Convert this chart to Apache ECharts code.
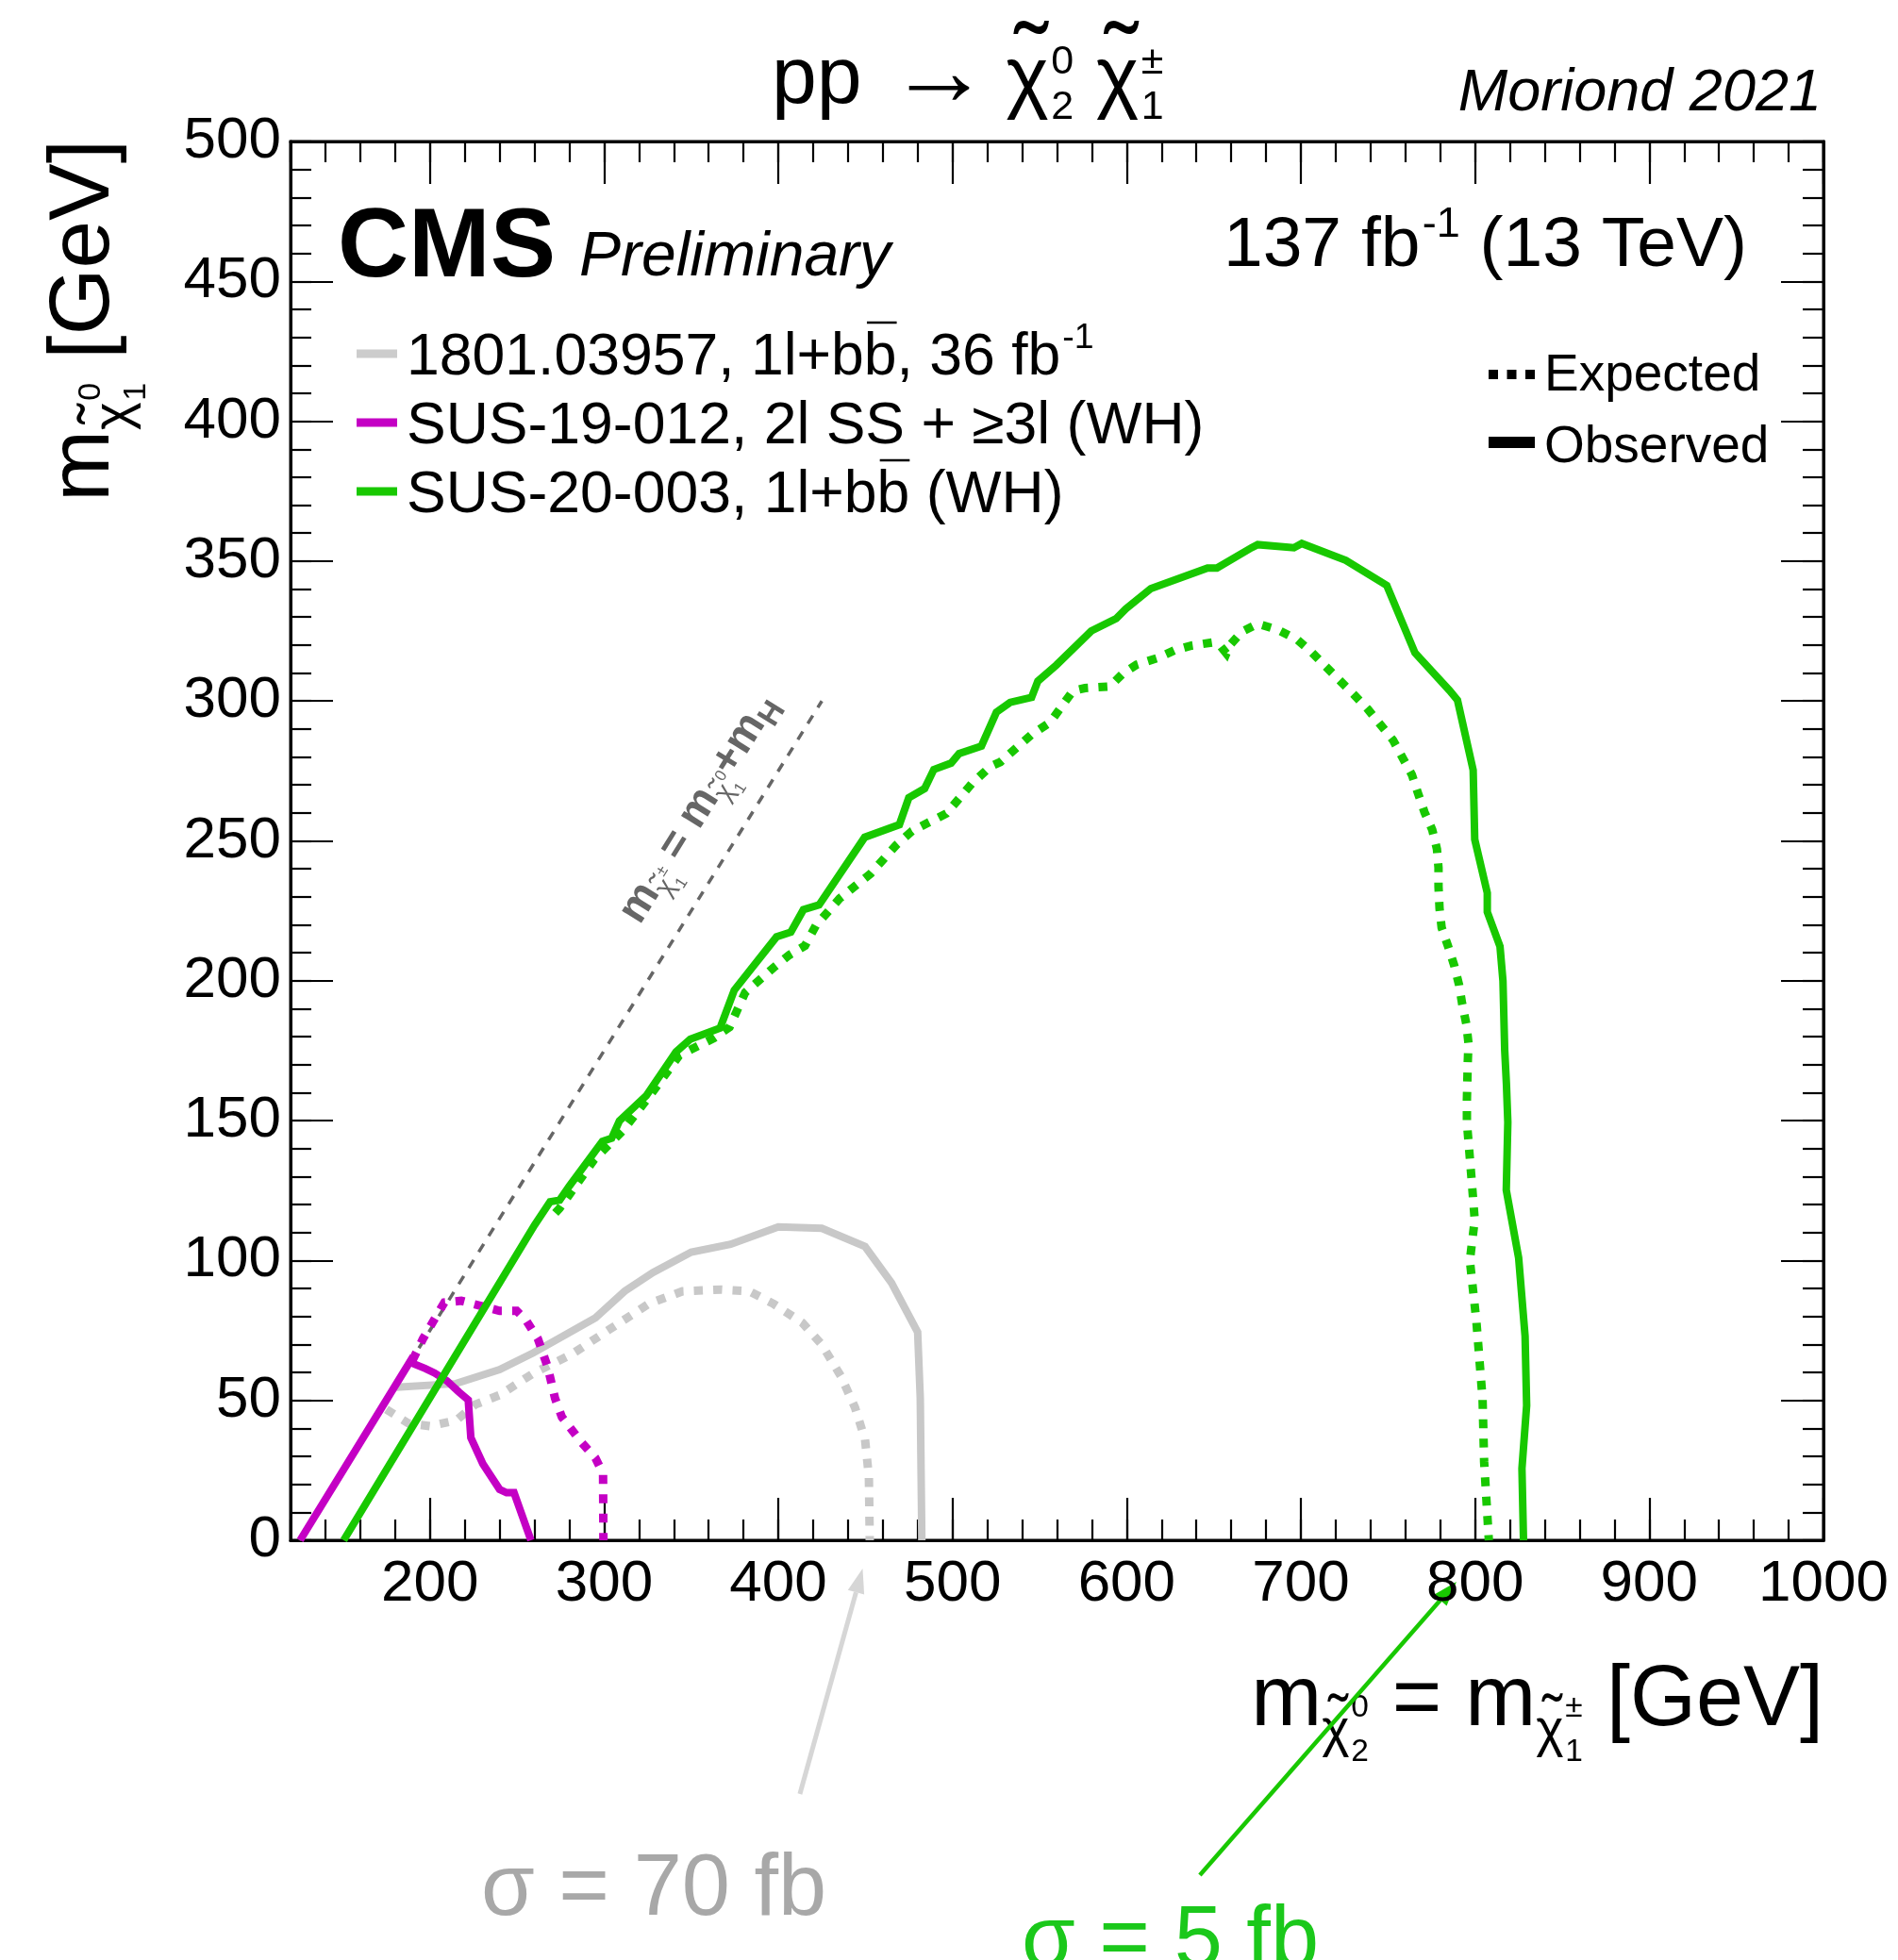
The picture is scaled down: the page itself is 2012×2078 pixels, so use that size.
<!DOCTYPE html>
<html>
<head>
<meta charset="utf-8">
<script src="https://cdn.jsdelivr.net/npm/echarts@6/dist/echarts.min.js"></script>
<style>
  html, body { margin: 0; padding: 0; background: #ffffff; }
  #chart { width: 2012px; height: 2078px; }
</style>
</head>
<body>
<div id="chart"></div>
<script>
// Exclusion contours in the (m_chi2^0 = m_chi1^+-, m_chi1^0) plane, GeV.
const X_MIN = 120, X_MAX = 1000, Y_MIN = 0, Y_MAX = 500;
const xTickValues = [200, 300, 400, 500, 600, 700, 800, 900, 1000];
const yTickValues = [0, 50, 100, 150, 200, 250, 300, 350, 400, 450, 500];

// SUS-20-003, 1l+bb (WH)
const greenObserved = [
  [150.5, 0], [260, 112.6], [269, 121], [274.5, 121.6], [280, 126.6], [299, 142.6], [304.3, 143.7],
  [308.8, 149.9], [324.2, 158.9], [341.3, 174.6], [349.5, 179.1], [366.6, 183.1], [374.7, 196.6],
  [399, 215.7], [407.2, 217.4], [414.4, 225.4], [423.4, 227.1], [449.6, 251.3], [469.5, 255.8],
  [474.9, 265.4], [484, 268.7], [489.3, 275.5], [499.2, 277.8], [503.8, 281.2], [516.6, 283.9],
  [525.2, 296], [533.1, 299.5], [545.4, 301.3], [549, 307.1], [559.7, 312.9], [576, 322.8],
  [579.6, 325], [594, 329.5], [599.4, 332.9], [613.9, 340.2], [646.4, 347.5], [651.8, 347.5],
  [671.7, 354.8], [675.2, 355.9], [696, 354.8], [700.5, 356.3], [725.8, 350.3], [749.3, 341.3],
  [765.5, 317.2], [785.4, 303.7], [789.9, 300.3], [798.9, 275.3], [799.8, 250.5], [807, 231.4],
  [807, 224.6], [814.3, 212.3], [816, 200], [817, 175.2], [818, 163], [818.8, 149.4], [817.9, 125.2],
  [825, 101], [828.7, 73], [829.6, 48.2], [826.9, 25.7], [827.8, 0]
];
const greenExpected = [
  [272, 117], [274.5, 118.7], [294.4, 136.2], [310.6, 146.3], [328.6, 160.9], [343.1, 173.3],
  [363, 179.5], [372, 183.4], [381, 195.8], [397.3, 204.7], [406.3, 209.2], [415.3, 212.5],
  [421.6, 219.8], [435.2, 229.4], [453.2, 238.4], [467.7, 248.5], [476.7, 253.5], [485.7, 256.4],
  [496.5, 259.8], [511, 270.4], [521.8, 276.6], [527.5, 278.2], [545.4, 288], [556.1, 292.4],
  [569.1, 303.6], [576, 304.6], [590.4, 305.2], [597.6, 309.7], [605.7, 313], [617.5, 315.3],
  [627.4, 318.1], [637.3, 319.8], [649.1, 320.9], [653.6, 319.8], [657.2, 317], [659, 319.8],
  [666.2, 324.8], [675.2, 327.6], [687, 325.4], [697.8, 322], [705.9, 317.6], [714, 312.5],
  [722.2, 307.4], [730.3, 302.4], [738.4, 297.1], [745.6, 291.6], [752.9, 286], [758.3, 279.8],
  [763.7, 273.7], [767.3, 266.9], [771, 260.2], [775.4, 254], [778.1, 247.1], [779, 240.4],
  [779, 233.7], [779.6, 225.8], [780.8, 219], [784.4, 212.5], [788.1, 205.3], [790.8, 198.5],
  [792.6, 191.7], [795, 184.4], [796.2, 177.7], [795.8, 171], [795.3, 157.4], [795.3, 149.4],
  [798, 129], [799.8, 114.5], [797, 100], [800.7, 78.6], [804.3, 50.5], [805.2, 28], [807.9, 0]
];

// SUS-19-012, 2l SS + >=3l (WH)
const magentaObserved = [
  [125.5, 0], [189, 64.3], [191, 63], [197.3, 61.4], [202.7, 59.8], [209.7, 57], [216.6, 53],
  [222, 50.2], [223.5, 36.7], [230.4, 27.3], [240, 18.2], [244, 17], [248.3, 17], [258, 0]
];
const magentaExpected = [
  [190, 64.3], [196, 72], [208.3, 85], [218, 85.6], [240, 82], [249.8, 82], [255, 78.8],
  [262, 72], [267.6, 62], [271.8, 50.8], [275.8, 44], [287, 35], [295, 29.4], [299.4, 23.9],
  [299.6, 0]
];

// 1801.03957, 1l+bb, 36 fb-1
const grayObserved = [
  [180.7, 54.7], [215, 56], [240, 61], [259.4, 67], [295, 79.5], [311.8, 89], [328, 95.7],
  [350, 103], [372.6, 105.8], [400, 112], [425, 111.5], [449.8, 105], [465, 92], [480, 74.4],
  [481.5, 50.8], [482.4, 0]
];
const grayExpected = [
  [175, 46.8], [187.6, 41.8], [200, 40.8], [215.2, 42.9], [226, 48.5], [240, 51.9], [259.4, 59.7],
  [281.4, 66.5], [303.4, 75.5], [325.5, 84.5], [345, 89], [367, 89.6], [383.4, 89], [397.3, 84.5],
  [413.7, 77.8], [425, 69.9], [436, 58.6], [444, 47.5], [449.8, 36], [452, 22.7], [452.5, 0]
];

// m_chi1^+- = m_chi1^0 + m_H
const kinematicLine = [[125, 0], [425, 300]];

// Cross-section call-outs: where each arrow points on the mass axis
const grayArrowX = 448.4;
const greenArrowX = 789.3;

const GREEN = '#18c800', MAGENTA = '#c400c4', GRAY = '#c8c8c8', DIAG = '#666666';
const FONT = '"Liberation Sans", Helvetica, Arial, sans-serif';

// ---------- text layout helpers (sub/superscripts, tildes, overlines) ----------
const mctx = document.createElement('canvas').getContext('2d');
function fontStr(size, weight, style) {
  return (style || 'normal') + ' ' + (weight || 'normal') + ' ' + size + 'px ' + FONT;
}
function measure(t, f) { mctx.font = f; mctx.textBaseline = 'alphabetic'; return mctx.measureText(t).width; }
function midToBase(f) {
  mctx.font = f; mctx.textBaseline = 'middle';
  const d = mctx.measureText('H').actualBoundingBoxDescent;
  mctx.textBaseline = 'alphabetic';
  return d;
}
function addText(kids, t, x, yBase, size, color, weight, style) {
  const f = fontStr(size, weight, style);
  kids.push({
    type: 'text', x: x, y: yBase - midToBase(f), silent: true,
    style: { text: t, font: f, fill: color, align: 'left', verticalAlign: 'middle',
             textAlign: 'left', textVerticalAlign: 'middle' }
  });
  return measure(t, f);
}
function layout(tokens, base, color, opt) {
  opt = opt || {};
  const kids = [];
  let cx = 0;
  for (const tk of tokens) {
    const s = base * (tk.scale || 1);
    const yb = (tk.dy || 0) * base;
    const w = tk.weight || opt.weight, st = tk.style || opt.style;
    const w0 = tk.t ? addText(kids, tk.t, cx, yb, s, color, w, st) : 0;
    if (tk.tilde) {
      const ts = s * (tk.tildeScale || 1.15);
      const f = fontStr(ts, w, st);
      const tw = measure('\u02DC', f);
      addText(kids, '\u02DC', cx + w0 / 2 - tw / 2 + s * 0.05, yb - s * (tk.tildeUp || 0.16), ts, color, w, st);
    }
    if (tk.over) {
      kids.push({ type: 'rect', silent: true,
        shape: { x: cx + s * 0.05, y: yb - s * 0.9, width: w0 - s * 0.05, height: Math.max(2.5, s * 0.04) },
        style: { fill: color } });
    }
    let w1 = 0;
    if (tk.sup || tk.sub) {
      const ss = s * (tk.ss || 0.6);
      const gap = s * (tk.gap || 0.03);
      if (tk.sup) w1 = Math.max(w1, addText(kids, tk.sup, cx + w0 + gap, yb - s * (tk.supUp || 0.45), ss, color, w, st));
      if (tk.sub) w1 = Math.max(w1, addText(kids, tk.sub, cx + w0 + gap, yb + s * (tk.subDown || 0.22), ss, color, w, st));
      w1 += gap;
    }
    cx += w0 + w1 + (tk.after || 0) * base;
  }
  return { kids: kids, width: cx };
}
function placed(tokens, base, color, x, yBase, opt) {
  const l = layout(tokens, base, color, opt);
  const anchor = (opt && opt.anchor) || 'left';
  const x0 = anchor === 'right' ? x - l.width : anchor === 'center' ? x - l.width / 2 : x;
  return { type: 'group', x: x0, y: yBase, children: l.kids, silent: true };
}

// ---------- axes: frame with ROOT-style inward ticks on all four sides ----------
const plainNumber = v => String(Math.round(v));
function xAxisDef(position, major, showLabels) {
  return {
    type: 'value', position: position, min: X_MIN, max: X_MAX, interval: 20,
    axisLine: { show: !major, onZero: false, lineStyle: { color: '#000', width: 3 } },
    axisTick: major
      ? { show: true, inside: true, length: 45, customValues: xTickValues, lineStyle: { color: '#000', width: 2.2 } }
      : { show: true, inside: true, length: 22, lineStyle: { color: '#000', width: 2.2 } },
    axisLabel: showLabels
      ? { show: true, customValues: xTickValues, formatter: plainNumber, margin: 16, color: '#000', fontSize: 62, fontFamily: 'Liberation Sans' }
      : { show: false },
    splitLine: { show: false }
  };
}
function yAxisDef(position, major, showLabels) {
  return {
    type: 'value', position: position, min: Y_MIN, max: Y_MAX, interval: 10,
    axisLine: { show: !major, onZero: false, lineStyle: { color: '#000', width: 3 } },
    axisTick: major
      ? { show: true, inside: true, length: 45, customValues: yTickValues, lineStyle: { color: '#000', width: 2.2 } }
      : { show: true, inside: true, length: 22, lineStyle: { color: '#000', width: 2.2 } },
    axisLabel: showLabels
      ? { show: true, customValues: yTickValues, formatter: plainNumber, margin: 10, color: '#000', fontSize: 62, fontFamily: 'Liberation Sans' }
      : { show: false },
    splitLine: { show: false }
  };
}

function contour(name, data, color, width, dotted, z) {
  return {
    type: 'line', name: name, data: data, xAxisIndex: 0, yAxisIndex: 0,
    showSymbol: false, symbol: 'none', smooth: false, silent: true, z: z,
    lineStyle: { color: color, width: width, type: dotted ? [9.5, 11] : 'solid', cap: 'butt', join: 'miter' }
  };
}

const chart = echarts.init(document.getElementById('chart'), null, { renderer: 'canvas', width: 2012, height: 2078 });

chart.setOption({
  animation: false,
  backgroundColor: '#ffffff',
  grid: { left: 308, right: 79, top: 150, bottom: 445, show: true, borderColor: '#000', borderWidth: 3, containLabel: false },
  xAxis: [xAxisDef('bottom', false, true), xAxisDef('bottom', true, false), xAxisDef('top', false, false), xAxisDef('top', true, false)],
  yAxis: [yAxisDef('left', false, true), yAxisDef('left', true, false), yAxisDef('right', false, false), yAxisDef('right', true, false)],
  series: [
    {
      type: 'line', data: kinematicLine, xAxisIndex: 0, yAxisIndex: 0, showSymbol: false, symbol: 'none', silent: true, z: 1,
      lineStyle: { color: DIAG, width: 3.5, type: [10, 10], cap: 'butt' }
    },
    contour('1801.03957 expected', grayExpected, GRAY, 9, true, 2),
    contour('1801.03957 observed', grayObserved, GRAY, 8, false, 2),
    contour('SUS-19-012 expected', magentaExpected, MAGENTA, 9, true, 3),
    contour('SUS-19-012 observed', magentaObserved, MAGENTA, 8, false, 3),
    contour('SUS-20-003 expected', greenExpected, GREEN, 9, true, 4),
    contour('SUS-20-003 observed', greenObserved, GREEN, 8, false, 4)
  ]
});

const toPx = (x, y) => chart.convertToPixel({ gridIndex: 0 }, [x, y]);

function arrow(tip, tail, color, width, headLen, headW) {
  const dx = tip[0] - tail[0], dy = tip[1] - tail[1];
  const L = Math.hypot(dx, dy), ux = dx / L, uy = dy / L;
  const b = [tip[0] - ux * headLen, tip[1] - uy * headLen];
  const px = -uy, py = ux;
  return [
    { type: 'line', silent: true, shape: { x1: tail[0], y1: tail[1], x2: b[0], y2: b[1] }, style: { stroke: color, lineWidth: width } },
    { type: 'polygon', silent: true, shape: { points: [tip, [b[0] + px * headW / 2, b[1] + py * headW / 2], [b[0] - px * headW / 2, b[1] - py * headW / 2]] }, style: { fill: color } }
  ];
}

function buildGraphics() {
  const g = [];
  const chiSup = (sup, sub) => ({ t: '\u03C7', tilde: true, tildeUp: 0.1, tildeScale: 1.25, sup: sup, sub: sub, ss: 0.5, supUp: 0.36, subDown: 0.2 });

  // Title line
  g.push(placed([{ t: 'pp ', after: 0.05 }, { t: '\u2192', scale: 1.25, dy: 0.04, after: 0.2 }, chiSup('0', '2'), { t: ' ' }, chiSup('\u00B1', '1')],
    86, '#000', 818, 109));
  g.push(placed([{ t: 'Moriond 2021' }], 63, '#000', 1931, 117, { anchor: 'right', style: 'italic' }));

  // CMS label and luminosity
  g.push(placed([{ t: 'CMS' }], 104, '#000', 358, 293, { weight: 'bold' }));
  g.push(placed([{ t: 'Preliminary' }], 66, '#000', 614, 292, { style: 'italic' }));
  g.push(placed([{ t: '137 fb' }, { t: '', sup: '-1', ss: 0.6, supUp: 0.42 }, { t: ' (13 TeV)' }], 75, '#000', 1852, 282, { anchor: 'right' }));

  // Analysis legend (top left)
  const legRows = [
    { color: '#cccccc', y: 375, tokens: [{ t: '1801.03957, 1l+b' }, { t: 'b', over: true }, { t: ', 36 fb' }, { t: '', sup: '-1', ss: 0.6, supUp: 0.45 }] },
    { color: MAGENTA, y: 448, tokens: [{ t: 'SUS-19-012, 2l SS + \u22653l (WH)' }] },
    { color: GREEN, y: 521, tokens: [{ t: 'SUS-20-003, 1l+b' }, { t: 'b', over: true }, { t: ' (WH)' }] }
  ];
  for (const r of legRows) {
    g.push({ type: 'line', silent: true, shape: { x1: 378, y1: r.y, x2: 421, y2: r.y }, style: { stroke: r.color, lineWidth: 9 } });
    g.push(placed(r.tokens, 62.5, '#000', 431, r.y + 22));
  }

  // Line-style legend (top right)
  g.push({ type: 'line', silent: true, shape: { x1: 1578, y1: 397, x2: 1627, y2: 397 }, style: { stroke: '#000', lineWidth: 10, lineDash: [10, 9.5] } });
  g.push(placed([{ t: 'Expected' }], 55, '#000', 1637, 414));
  g.push({ type: 'line', silent: true, shape: { x1: 1578, y1: 469, x2: 1627, y2: 469 }, style: { stroke: '#000', lineWidth: 12 } });
  g.push(placed([{ t: 'Observed' }], 55, '#000', 1637, 490));

  // Axis titles
  const xt = layout([{ t: 'm' }, { t: '\u03C7', tilde: true, scale: 0.62, dy: 0.24, sup: '0', sub: '2', ss: 0.6, supUp: 0.55, subDown: 0.3 },
    { t: ' = m' }, { t: '\u03C7', tilde: true, scale: 0.62, dy: 0.24, sup: '\u00B1', sub: '1', ss: 0.6, supUp: 0.55, subDown: 0.3 },
    { t: ' [GeV]' }], 90, '#000');
  g.push({ type: 'group', x: 1933 - xt.width, y: 1829, children: xt.kids, silent: true });

  const yt = layout([{ t: 'm' }, { t: '\u03C7', tilde: true, scale: 0.62, dy: 0.24, sup: '0', sub: '1', ss: 0.6, supUp: 0.55, subDown: 0.3 },
    { t: ' [GeV]' }], 91, '#000');
  g.push({ type: 'group', x: 115, y: 148 + yt.width, rotation: Math.PI / 2, children: yt.kids, silent: true });

  // Annotation along the kinematic line
  const p1 = toPx(kinematicLine[0][0], kinematicLine[0][1]);
  const p2 = toPx(kinematicLine[1][0], kinematicLine[1][1]);
  const ang = Math.atan2(p1[1] - p2[1], p2[0] - p1[0]);
  const p0 = toPx(338, 213);
  const off = 38;
  const dt = layout([{ t: 'm' }, { t: '\u03C7', tilde: true, scale: 0.62, dy: 0.22, weight: 'normal', sup: '\u00B1', sub: '1', ss: 0.6, supUp: 0.55, subDown: 0.3 },
    { t: ' = m' }, { t: '\u03C7', tilde: true, scale: 0.62, dy: 0.22, weight: 'normal', sup: '0', sub: '1', ss: 0.6, supUp: 0.55, subDown: 0.3 },
    { t: '+m' }, { t: 'H', scale: 0.72, dy: 0.22 }], 46, DIAG, { weight: 'bold' });
  g.push({ type: 'group', x: p0[0] - off * Math.sin(ang), y: p0[1] - off * Math.cos(ang), rotation: ang, children: dt.kids, silent: true });

  // Cross-section call-outs with arrows
  const axisY = toPx(X_MIN, Y_MIN)[1];
  const gTip = [toPx(grayArrowX, 0)[0], axisY + 30];
  arrow(gTip, [gTip[0] - 66.5, gTip[1] + 239], '#d6d6d6', 5, 26, 18).forEach(e => g.push(e));
  g.push(placed([{ t: '\u03C3 = 70 fb' }], 92, '#a8a8a8', 510, 2030));

  const nTip = [toPx(greenArrowX, 0)[0], axisY + 44];
  arrow(nTip, [nTip[0] - 272, nTip[1] + 311], GREEN, 4.5, 26, 18).forEach(e => g.push(e));
  g.push(placed([{ t: '\u03C3 = 5 fb' }], 92, '#1bc81b', 1083, 2085));

  return g;
}

chart.setOption({ graphic: buildGraphics() });
</script>
</body>
</html>
